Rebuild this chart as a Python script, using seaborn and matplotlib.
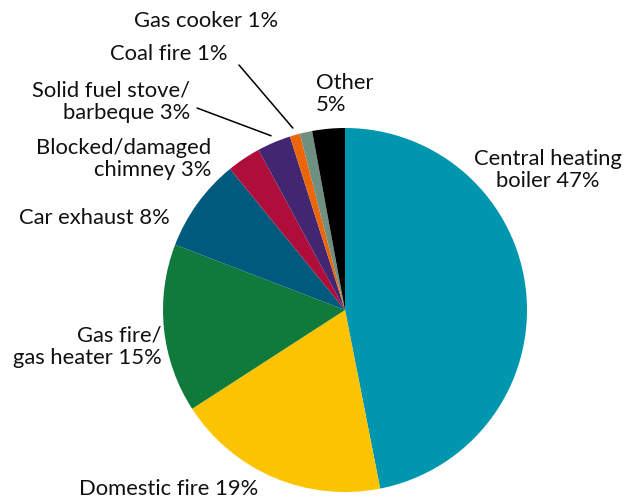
import numpy as np
import matplotlib.pyplot as plt
import seaborn as sns

sns.set_theme(style="white")
plt.rcParams['font.family'] = ['Lato', 'DejaVu Sans']

# fatias medidas no grafico (fracao em %), rotulos com o texto original
fontes = ['Central heating boiler', 'Domestic fire', 'Gas fire/gas heater', 'Car exhaust',
          'Blocked/damaged chimney', 'Solid fuel stove/barbeque', 'Coal fire', 'Gas cooker', 'Other']
valores = [47, 19, 15, 8.3, 3, 3, 0.9, 1.1, 2.9]
rotulos = ['Central heating\nboiler 47%', 'Domestic fire 19%', 'Gas fire/\ngas heater 15%',
           'Car exhaust 8%', 'Blocked/damaged\nchimney 3%', 'Solid fuel stove/\nbarbeque 3%',
           'Coal fire 1%', 'Gas cooker 1%', 'Other\n5%']
cores = ['#0096ae', '#fcc300', '#107a3c', '#005a7e', '#af0e3a', '#432672', '#ec6608', '#6f9081', '#000000']

W, H = 629, 499
fig = plt.figure(figsize=(W / 100, H / 100), dpi=100)

cx, cy, r = 345, 310, 182
ax = fig.add_axes([(cx - r) / W, (H - cy - r) / H, 2 * r / W, 2 * r / H])
wedges, _ = ax.pie(valores, colors=cores, startangle=90, counterclock=False,
                   wedgeprops=dict(linewidth=0))
ax.set_aspect('equal')
ax.set_xlim(-1, 1)
ax.set_ylim(-1, 1)
ax.axis('off')

def px(x, y):
    return x / W, 1 - y / H

# posicao do texto (pixels) e alinhamento de cada rotulo
pos_texto = [(548, 170, 'center'), (258, 489, 'right'), (162, 347, 'right'),
             (170, 218, 'right'), (211, 159, 'right'), (190, 102, 'right'),
             (228, 54, 'right'), (278, 21, 'right'), (316, 94, 'left')]
# indices com linha de chamada e ponta da linha no texto
chamadas = {5: (197, 108), 6: (239, 65), 7: (272, 43)}

for i, (w, lab) in enumerate(zip(wedges, rotulos)):
    x, y, ha = pos_texto[i]
    if i in chamadas:
        ang = np.deg2rad((w.theta1 + w.theta2) / 2)
        alvo = (1.04 * np.cos(ang), 1.04 * np.sin(ang))
        tx, ty = chamadas[i]
        ax.annotate('', xy=alvo, xycoords='data', xytext=px(tx, ty), textcoords='figure fraction',
                    arrowprops=dict(arrowstyle='-', color='black', lw=1.1, shrinkA=0, shrinkB=0))
    fig.text(*px(x, y), lab, ha=ha, va='center', fontsize=15.8, color='#111111',
             multialignment=ha, linespacing=1.15)

fig.savefig('out.png', dpi=100)
